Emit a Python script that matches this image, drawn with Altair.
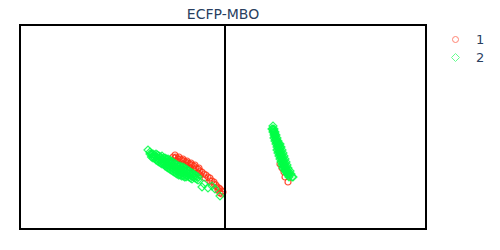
import altair as alt
import pandas as pd

TITLE = "ECFP-MBO"
groups = ["1", "2"]

red_x = [-0.52,-0.49,-0.45,-0.41,-0.37,-0.33,-0.29,-0.25,-0.21,-0.17,-0.13,-0.09,-0.06,-0.03,-0.05,-0.15,-0.20,-0.25,-0.35,-0.42,-0.49,-0.11,-0.07,-0.03,
         -0.50,-0.47,-0.43,-0.39,-0.35,-0.31,-0.27,-0.23,-0.19,-0.15,-0.11,-0.39,-0.31,-0.27,-0.08,-0.05,-0.02,
         -0.50,-0.46,-0.42,-0.38,-0.34,-0.30,-0.26,
         0.63,0.60,0.55,0.57,0.59]
red_y = [-0.30,-0.30,-0.32,-0.34,-0.36,-0.38,-0.41,-0.44,-0.47,-0.50,-0.54,-0.58,-0.61,-0.64,-0.66,-0.54,-0.51,-0.48,-0.41,-0.37,-0.34,-0.57,-0.63,-0.67,
         -0.31,-0.32,-0.33,-0.35,-0.37,-0.39,-0.42,-0.45,-0.48,-0.51,-0.55,-0.38,-0.42,-0.46,-0.60,-0.62,-0.65,
         -0.28,-0.30,-0.32,-0.34,-0.36,-0.38,-0.41,
         -0.55,-0.50,-0.37,-0.41,-0.45]

green_x = [-0.77,
           -0.75,-0.75,
           -0.72,-0.72,-0.72,
           -0.69,-0.69,-0.69,
           -0.66,-0.66,-0.66,
           -0.63,-0.63,-0.63,-0.63,
           -0.60,-0.60,-0.60,-0.60,
           -0.57,-0.57,-0.57,-0.57,
           -0.54,-0.54,-0.54,-0.54,
           -0.51,-0.51,-0.51,-0.51,
           -0.48,-0.48,-0.48,-0.48,
           -0.45,-0.45,-0.45,-0.45,
           -0.42,-0.42,-0.42,-0.42,
           -0.39,-0.39,-0.39,-0.39,
           -0.36,-0.36,-0.36,
           -0.33,-0.33,-0.33,
           -0.30,-0.30,
           -0.27,-0.27,
           -0.23,-0.17,-0.10,-0.05,-0.21,-0.13,
           -0.735,-0.735,
           -0.705,-0.705,
           -0.675,-0.675,-0.675,
           -0.645,-0.645,-0.645,
           -0.615,-0.615,-0.615,
           -0.585,-0.585,-0.585,-0.585,
           -0.555,-0.555,-0.555,-0.555,
           -0.525,-0.525,-0.525,-0.525,
           -0.495,-0.495,-0.495,-0.495,
           -0.465,-0.465,-0.465,-0.465,
           -0.435,-0.435,-0.435,-0.435,
           -0.405,-0.405,-0.405,-0.405,
           -0.375,-0.375,-0.375,
           -0.345,-0.345,-0.345,
           -0.315,-0.315,
           -0.285,-0.285,
           0.48,
           0.47,0.49,
           0.48,0.50,
           0.49,0.51,
           0.49,0.52,
           0.50,0.53,
           0.51,0.54,
           0.52,0.55,
           0.52,0.55,
           0.53,0.56,
           0.54,0.57,
           0.55,0.58,
           0.56,0.59,
           0.57,0.60,
           0.58,0.61,
           0.60,0.63,
           0.62,0.64,
           0.64,0.68,
           0.485,0.495,0.50,0.51,0.52,0.53,0.535,0.545,0.555,0.565,0.575,0.585,0.595,0.605,0.62,0.635,
           0.48,0.49,0.50,0.505,0.515,0.525,0.535,0.535,0.545,0.555,0.565,0.575,0.585,0.595,0.615,0.63,
           0.55,0.56,0.57,0.58,0.59,0.60,0.61,0.62,0.63,0.65,0.66,0.67]
green_y = [-0.23,
           -0.25,-0.27,
           -0.27,-0.29,-0.31,
           -0.27,-0.30,-0.33,
           -0.29,-0.32,-0.35,
           -0.29,-0.32,-0.35,-0.37,
           -0.31,-0.34,-0.37,-0.39,
           -0.32,-0.35,-0.38,-0.41,
           -0.34,-0.37,-0.40,-0.43,
           -0.36,-0.39,-0.42,-0.45,
           -0.38,-0.41,-0.44,-0.47,
           -0.39,-0.42,-0.45,-0.48,
           -0.40,-0.43,-0.46,-0.49,
           -0.42,-0.45,-0.48,-0.50,
           -0.44,-0.47,-0.50,
           -0.46,-0.49,-0.52,
           -0.48,-0.51,
           -0.50,-0.53,
           -0.60,-0.61,-0.62,-0.69,-0.57,-0.59,
           -0.27,-0.30,
           -0.28,-0.31,
           -0.28,-0.31,-0.34,
           -0.30,-0.33,-0.36,
           -0.31,-0.34,-0.37,
           -0.32,-0.35,-0.38,-0.40,
           -0.33,-0.36,-0.39,-0.42,
           -0.35,-0.38,-0.41,-0.44,
           -0.37,-0.40,-0.43,-0.46,
           -0.39,-0.42,-0.45,-0.48,
           -0.40,-0.43,-0.46,-0.49,
           -0.41,-0.44,-0.47,-0.50,
           -0.43,-0.46,-0.49,
           -0.45,-0.48,-0.51,
           -0.47,-0.50,
           -0.49,-0.52,
           0.01,
           -0.02,-0.02,
           -0.05,-0.05,
           -0.08,-0.08,
           -0.11,-0.11,
           -0.14,-0.14,
           -0.17,-0.17,
           -0.20,-0.20,
           -0.23,-0.23,
           -0.26,-0.26,
           -0.29,-0.29,
           -0.32,-0.32,
           -0.35,-0.35,
           -0.38,-0.38,
           -0.41,-0.41,
           -0.44,-0.44,
           -0.47,-0.47,
           -0.50,-0.50,
           -0.035,-0.065,-0.095,-0.125,-0.155,-0.185,-0.215,-0.245,-0.275,-0.305,-0.335,-0.365,-0.395,-0.425,-0.455,-0.485,
           -0.02,-0.05,-0.08,-0.11,-0.14,-0.17,-0.20,-0.23,-0.26,-0.29,-0.32,-0.35,-0.38,-0.41,-0.44,-0.47,
           -0.17,-0.20,-0.23,-0.26,-0.29,-0.32,-0.35,-0.38,-0.41,-0.44,-0.47,-0.50]

df = pd.DataFrame({
    "x": red_x + green_x,
    "y": red_y + green_y,
    "group": ["1"] * len(red_x) + ["2"] * len(green_x),
    "order": [1] * len(red_x) + [2] * len(green_x),
})

x_scale = alt.Scale(domain=[-2.05, 2.01], nice=False, zero=False)
y_scale = alt.Scale(domain=[-1.02, 1.02], nice=False, zero=False)

points = alt.Chart(df).mark_point(filled=False, strokeWidth=1.2, opacity=0.85).encode(
    x=alt.X("x:Q", scale=x_scale, axis=None),
    y=alt.Y("y:Q", scale=y_scale, axis=None),
    color=alt.Color("group:N", scale=alt.Scale(domain=groups, range=["#ff3214", "#00ff46"]),
                    legend=alt.Legend(title=None, orient="none", legendX=429, legendY=8, labelFontSize=13,
                                      labelColor="#2a3f5f", labelFont="DejaVu Sans",
                                      symbolStrokeWidth=1, rowPadding=4, labelOffset=14, symbolOpacity=0.6)),
    shape=alt.Shape("group:N", scale=alt.Scale(domain=groups, range=["circle", "diamond"])),
    size=alt.Size("group:N", scale=alt.Scale(domain=groups, range=[36, 64])),
    order=alt.Order("order:Q"),
)

rule = alt.Chart(pd.DataFrame({"x0": [0.0]})).mark_rule(color="#000000", strokeWidth=2).encode(
    x=alt.X("x0:Q", scale=x_scale, axis=None))

chart = (points + rule).properties(
    width=406, height=204,
    title=alt.TitleParams(TITLE, font="DejaVu Sans", fontSize=14, fontWeight="normal", color="#2a3f5f", offset=2),
    padding={"left": 12, "top": 17, "right": 66, "bottom": 13},
    autosize=alt.AutoSizeParams(type="none"),
).configure_view(stroke="#000000", strokeWidth=2)

chart.save("out.html", embed_options={"renderer": "svg", "actions": False})
